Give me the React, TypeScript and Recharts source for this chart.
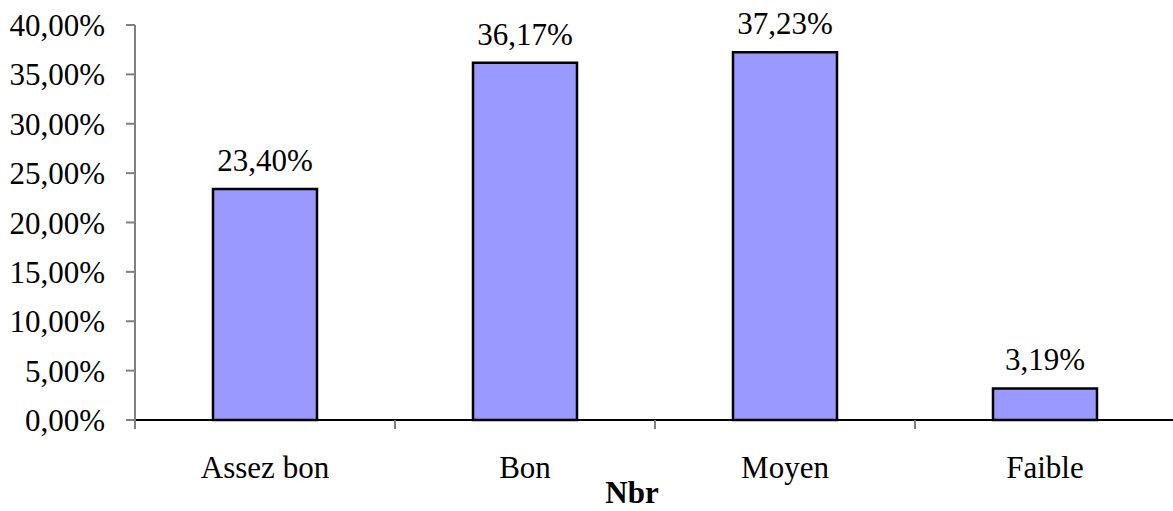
import { BarChart, Bar, XAxis, YAxis, LabelList } from 'recharts'

const categories = ['Assez bon', 'Bon', 'Moyen', 'Faible']
const shares = [23.4, 36.17, 37.23, 3.19]
const yTicks = [0, 5, 10, 15, 20, 25, 30, 35, 40]
const axisTitle = 'Nbr'

const data = categories.map((name, i) => ({ name, value: shares[i] }))

const FONT = "'Times New Roman', Tinos, 'Liberation Serif', serif"
const SIZE = 31

const fmt = (v: number) => v.toFixed(2).replace('.', ',') + '%'

function CategoryTick(props: any) {
  const { x, y, payload } = props
  const half = payload?.offset ?? 0
  return (
    <g>
      <line x1={x - half} x2={x - half} y1={y - 10} y2={y - 1} stroke="#808080" strokeWidth={2} />
      <text
        x={x}
        y={y + 48}
        textAnchor="middle"
        style={{ fontFamily: FONT, fontSize: SIZE }}
        fill="#000"
      >
        {payload.value}
      </text>
    </g>
  )
}

function AxisTitle(props: any) {
  const { viewBox } = props
  const cx = viewBox.x + viewBox.width / 2 - 23
  return (
    <text x={cx} y={viewBox.y + 83} textAnchor="middle" style={{ fontFamily: FONT, fontSize: SIZE, fontWeight: 'bold' }} fill="#000">
      {axisTitle}
    </text>
  )
}

export default function App() {
  return (
    <div style={{ position: 'absolute', left: 0, top: 0, width: 1173, height: 511, overflow: 'hidden', background: '#fff', fontFamily: FONT }}>
      <BarChart
        width={1175}
        height={511}
        data={data}
        margin={{ top: 25, right: 0, bottom: 0, left: 0 }}
        barCategoryGap="30%"
        style={{ fontFamily: FONT }}
      >
        <XAxis
          dataKey="name"
          height={91}
          axisLine={{ stroke: '#000', strokeWidth: 2 }}
          tickLine={false}
          tickSize={10}
          tickMargin={0}
          tick={<CategoryTick />}
          interval={0}
          label={<AxisTitle />}
        />
        <YAxis
          width={135}
          domain={[0, 40]}
          ticks={yTicks}
          interval={0}
          axisLine={{ stroke: '#808080', strokeWidth: 2 }}
          tickLine={{ stroke: '#808080', strokeWidth: 2 }}
          tickSize={9}
          tickMargin={21}
          tickFormatter={fmt}
          tick={{ style: { fontFamily: FONT }, fontSize: SIZE, fill: '#000' }}
        />
        <Bar dataKey="value" fill="#9999FF" stroke="#000" strokeWidth={2.5} isAnimationActive={false}>
          <LabelList
            dataKey="value"
            position="top"
            offset={18}
            formatter={(v: any) => fmt(Number(v))}
            style={{ fontFamily: FONT, fontSize: SIZE, fill: '#000' }}
          />
        </Bar>
      </BarChart>
    </div>
  )
}
